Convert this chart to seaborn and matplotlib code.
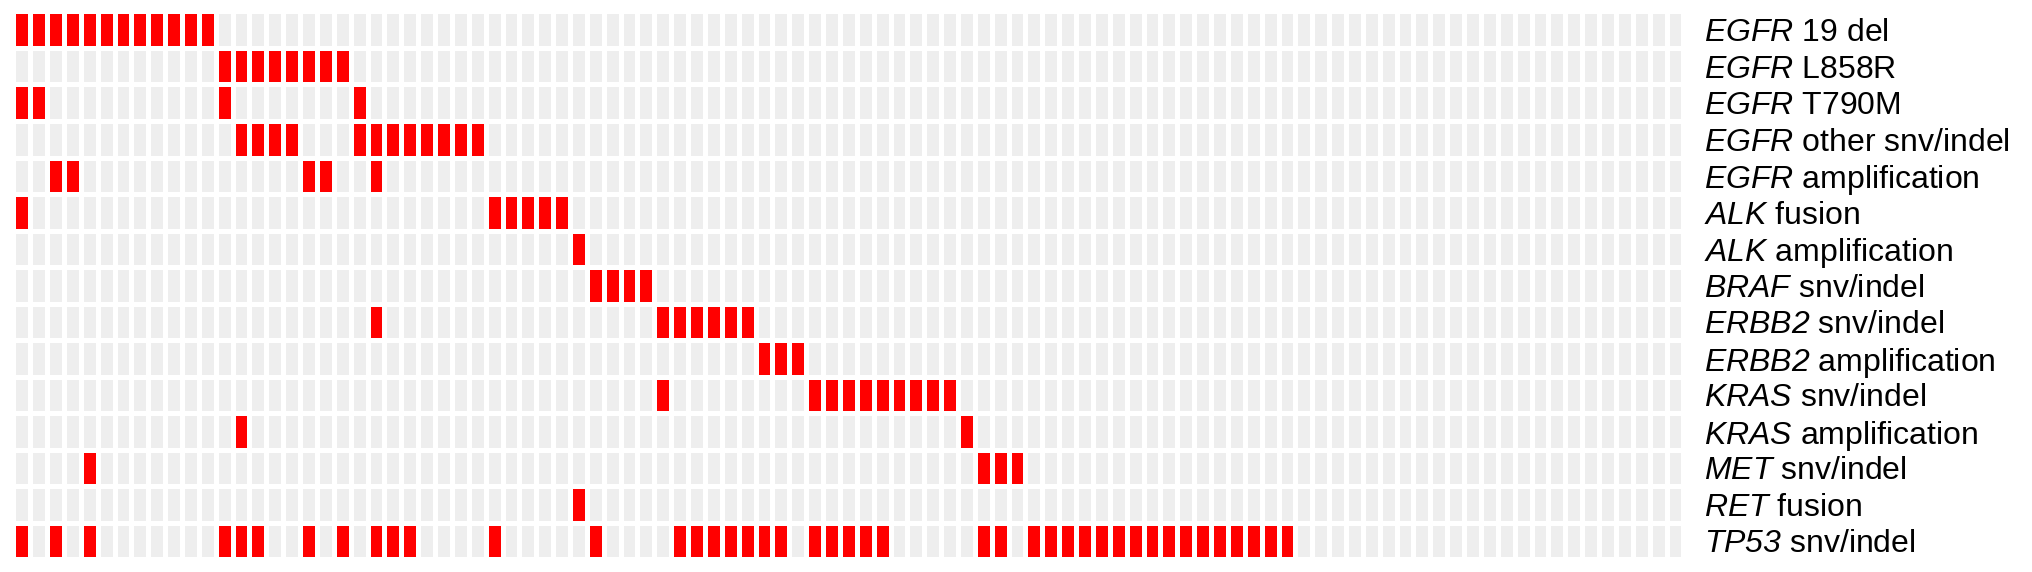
import matplotlib

matplotlib.use("Agg")
import matplotlib.pyplot as plt
import numpy as np
import pandas as pd
import seaborn as sns
from matplotlib.colors import ListedColormap

# Alteration rows (gene name shown in italics) and the patients carrying each one
genes = ["EGFR", "EGFR", "EGFR", "EGFR", "EGFR", "ALK", "ALK", "BRAF",
         "ERBB2", "ERBB2", "KRAS", "KRAS", "MET", "RET", "TP53"]
alterations = ["19 del", "L858R", "T790M", "other snv/indel", "amplification",
               "fusion", "amplification", "snv/indel", "snv/indel",
               "amplification", "snv/indel", "amplification", "snv/indel",
               "fusion", "snv/indel"]
n_patients = 99

egfr_19del = list(range(0, 12))
egfr_l858r = list(range(12, 20))
egfr_t790m = [0, 1, 12, 20]
egfr_other = [13, 14, 15, 16] + list(range(20, 28))
egfr_amp = [2, 3, 17, 18, 21]
alk_fusion = [0] + list(range(28, 33))
alk_amp = [33]
braf_snv = list(range(34, 38))
erbb2_snv = [21] + list(range(38, 44))
erbb2_amp = [44, 45, 46]
kras_snv = [38] + list(range(47, 56))
kras_amp = [13, 56]
met_snv = [4, 57, 58, 59]
ret_fusion = [33]
tp53_snv = ([0, 2, 4, 12, 13, 14, 17, 19, 21, 22, 23, 28, 34]
            + list(range(39, 46)) + list(range(47, 52)) + [57, 58]
            + list(range(60, 76)))

carriers = [egfr_19del, egfr_l858r, egfr_t790m, egfr_other, egfr_amp,
            alk_fusion, alk_amp, braf_snv, erbb2_snv, erbb2_amp,
            kras_snv, kras_amp, met_snv, ret_fusion, tp53_snv]

# Build the alteration x patient matrix
matrix = np.zeros((len(carriers), n_patients), dtype=int)
for row, cols in enumerate(carriers):
    matrix[row, cols] = 1

row_labels = [rf"$\mathit{{{g}}}$ {a}" for g, a in zip(genes, alterations)]
df = pd.DataFrame(matrix, index=row_labels)

sns.set_style("white")
plt.rcParams["font.family"] = ["Liberation Sans", "DejaVu Sans"]
plt.rcParams["mathtext.fontset"] = "custom"
plt.rcParams["mathtext.it"] = "Liberation Sans:italic"
plt.rcParams["mathtext.rm"] = "Liberation Sans:italic"

fig = plt.figure(figsize=(20.32, 5.72), dpi=100)
ax = fig.add_axes([0.00655, 0.0227, 0.8219, 0.9572])

sns.heatmap(
    df,
    ax=ax,
    cmap=ListedColormap(["#eeeeee", "#ff0000"]),
    vmin=0,
    vmax=1,
    cbar=False,
    linewidths=2.45,
    linecolor="white",
    xticklabels=False,
    yticklabels=True,
)
# rows are separated by a slightly wider white gap than columns
ax.hlines(np.arange(0, len(carriers) + 1), 0, n_patients, color="white",
          linewidth=3.6)

ax.yaxis.tick_right()
ax.tick_params(axis="y", length=0, pad=15, labelsize=23, rotation=0,
               labelcolor="black")
for lbl in ax.get_yticklabels():
    lbl.set_horizontalalignment("left")
for spine in ax.spines.values():
    spine.set_visible(False)
ax.set_xlabel("")
ax.set_ylabel("")

fig.savefig("out.png", dpi=100, facecolor="white")
